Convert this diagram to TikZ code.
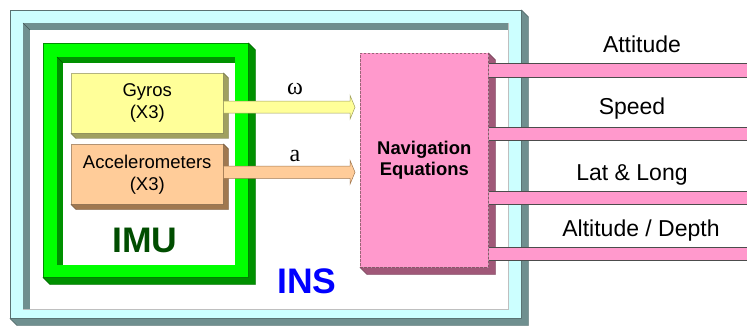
\documentclass[tikz,border=0pt]{standalone}
\usepackage{fontspec}
\setmainfont{Liberation Sans}
\newfontfamily\timesf{Liberation Serif}
\usetikzlibrary{calc}
\definecolor{cyanf}{HTML}{CCFFFF}
\definecolor{slate}{HTML}{6F8F8F}
\definecolor{grn}{HTML}{00FF00}
\definecolor{dgrn}{HTML}{009000}
\definecolor{imutext}{HTML}{004D00}
\definecolor{gyf}{HTML}{FFFF99}
\definecolor{gys}{HTML}{A0A060}
\definecolor{acf}{HTML}{FFCC99}
\definecolor{acs}{HTML}{A07850}
\definecolor{pinkf}{HTML}{FF99CC}
\definecolor{pinks}{HTML}{A05878}
\definecolor{pinkl}{HTML}{996677}
\definecolor{insblue}{HTML}{0000FF}
\newcommand\boxshade[3]{\filldraw[fill=#3,draw=#3!70!black,line width=0.4pt] (#1.north east) -- ++(#2,#2) -- ($(#1.south east)+(#2,#2)$) -- ($(#1.south west)+(#2,#2)$) -- (#1.south west) -- (#1.south east) -- cycle;}
\newcommand\boxinset[4]{\fill[#3] (#1.north west) rectangle (#1.south east);
  \fill[#4] ($(#1.north west)+(#2,#2)$) rectangle (#1.south east);
  \draw[#3!60!black,line width=0.4pt] (#1.north west) -- ++(#2,#2);}
\begin{document}
\begin{tikzpicture}[x=1pt,y=-1pt,
  face/.style={inner sep=0pt,anchor=north west,line width=0.5pt},
  hole/.style={inner sep=0pt,anchor=north west},
  lbl/.style={font=\fontsize{18.5}{22}\selectfont,align=center},
  outlbl/.style={font=\fontsize{23}{26}\selectfont},
  big/.style={font=\fontsize{35.5}{40}\selectfont\bfseries},
  greek/.style={font=\timesf\fontsize{24}{26}\selectfont},
  bar/.style={fill=pinkf},
  barline/.style={draw=black!70,line width=0.6pt}]
\useasboundingbox (0,0) rectangle (747,326);
\fill[white] (0,0) rectangle (747,326);
% INS frame
\node[face,fill=cyanf,draw=slate!80!black,minimum width=511pt,minimum height=308pt] (ins) at (10,10) {};
\boxshade{ins}{7}{slate}
\node[hole,minimum width=485pt,minimum height=286pt] (insin) at (23,23) {};
\boxinset{insin}{7}{slate}{white}
\draw[black!25,line width=0.6pt] (insin.north east) -- (insin.south east) -- (insin.south west);
% IMU frame
\node[face,fill=grn,draw=dgrn,minimum width=205pt,minimum height=234pt] (imu) at (43,43) {};
\boxshade{imu}{7}{dgrn}
\node[hole,minimum width=178pt,minimum height=208pt] (imuin) at (57,57) {};
\boxinset{imuin}{6}{dgrn}{white}
% sensors
\node[face,fill=gyf,draw=gys!80,minimum width=152pt,minimum height=60pt,lbl] (gy) at (71,73) {Gyros\\(X3)};
\boxshade{gy}{5}{gys}
\node[face,fill=acf,draw=acs!80,minimum width=152pt,minimum height=60pt,lbl] (ac) at (71,144) {Accelerometers\\(X3)};
\boxshade{ac}{5}{acs}
\node[big,text=imutext] (imulbl) at (145,240) {IMU};
\node[big,text=insblue] (inslbl) at (307,281) {INS};
% navigation box
\node[face,fill=pinkf,draw=pinkl,dashed,dash pattern=on 2.5pt off 1.5pt,minimum width=128pt,minimum height=214pt,
  font=\fontsize{18.4}{21}\selectfont\bfseries,align=center] (nav) at (360,53) {Navigation\\Equations};
\boxshade{nav}{7}{pinks}
% arrows
\coordinate (g0) at ($(gy.east)+(0,4)$);
\coordinate (g1) at ($(nav.west |- g0)+(-5,0)$);
\filldraw[fill=gyf,draw=gys,line width=0.5pt] ($(g0)+(0,-6)$) -- ($(g1)+(-5,-6)$) -- ($(g1)+(-5,-12)$) -- (g1) -- ($(g1)+(-5,12)$) -- ($(g1)+(-5,6)$) -- ($(g0)+(0,6)$) -- cycle;
\coordinate (a0) at ($(ac.east)+(0,-2)$);
\coordinate (a1) at ($(nav.west |- a0)+(-5,0)$);
\filldraw[fill=acf,draw=acs,line width=0.5pt] ($(a0)+(0,-6)$) -- ($(a1)+(-5,-6)$) -- ($(a1)+(-5,-12)$) -- (a1) -- ($(a1)+(-5,12)$) -- ($(a1)+(-5,6)$) -- ($(a0)+(0,6)$) -- cycle;
\node[greek] (wl) at (295,89) {ω};
\node[greek] (al) at (295,156) {a};
% output bars
\foreach \t/\b/\n in {63/77/1,127/140/2,191/204/3,247/260/4}{
  \coordinate (s\n) at (nav.east |- 0,\t);
  \coordinate (e\n) at (747,\b);
  \fill[bar] (s\n) rectangle (e\n);
  \draw[barline] (s\n) -- (s\n -| e\n);
  \draw[barline] (s\n |- e\n) -- (e\n);
}
\node[outlbl] (o1) at (642,44) {Attitude};
\node[outlbl] (o2) at (632,109) {Speed};
\node[outlbl] (o3) at (632,175) {Lat \& Long};
\node[outlbl] (o4) at (641,231) {Altitude / Depth};
\end{tikzpicture}
\end{document}
